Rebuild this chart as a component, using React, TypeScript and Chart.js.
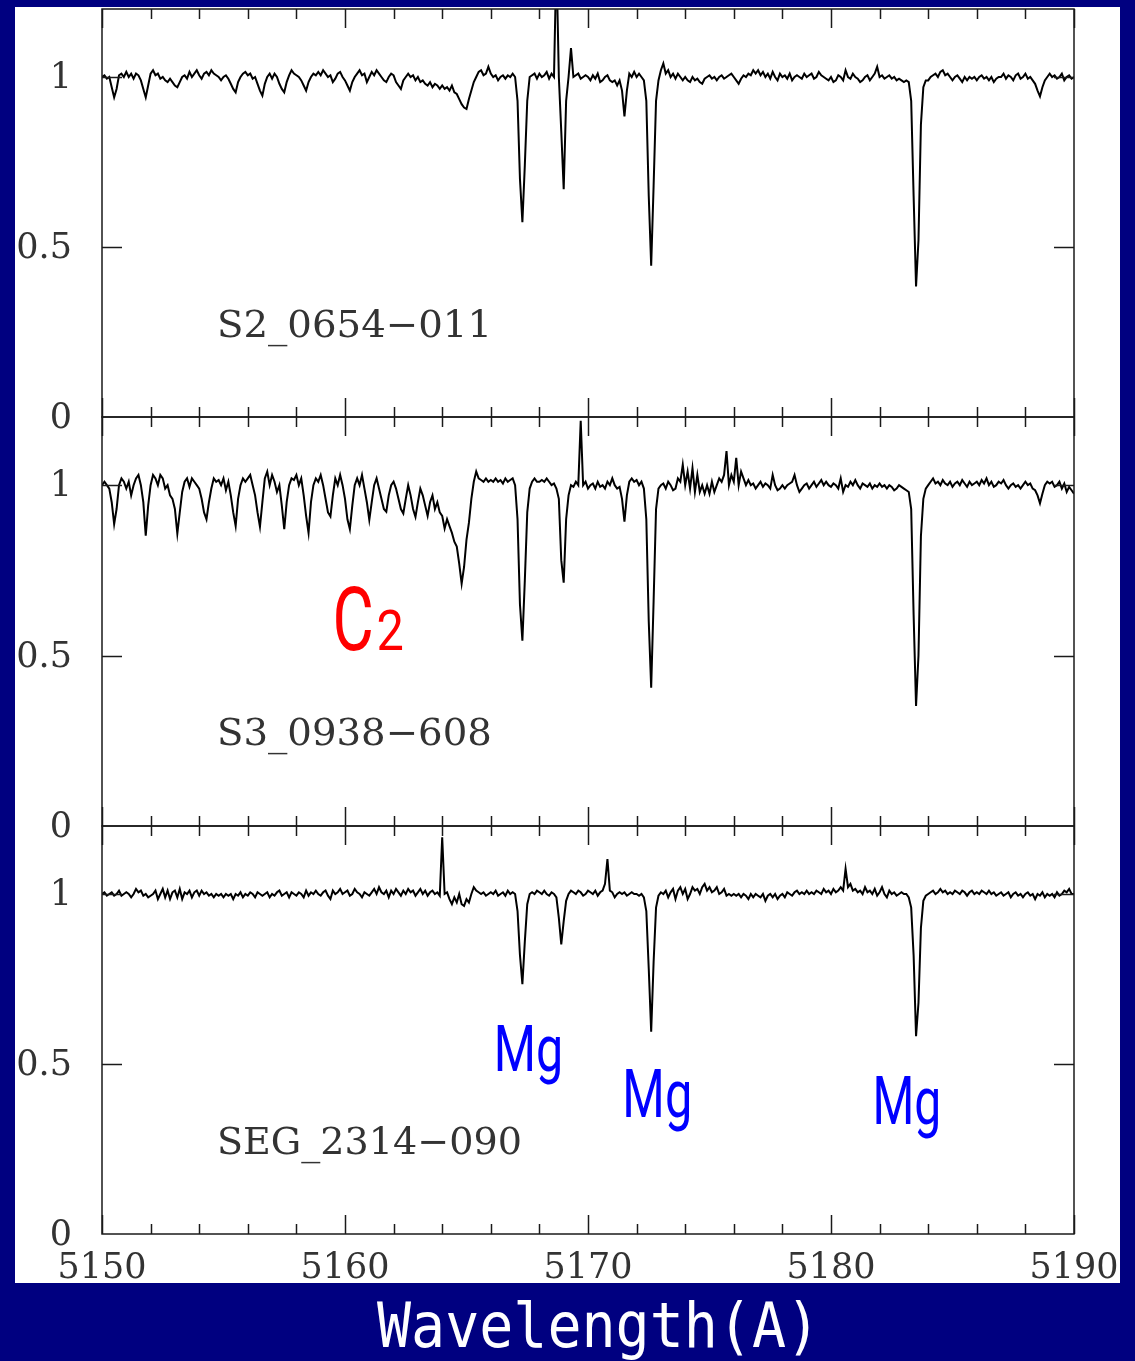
import React, { useEffect, useRef } from 'react';
import { Chart, registerables } from 'chart.js';

Chart.register(...registerables);

// ---------------- DATA ----------------
// wavelength grid (Angstrom)
const WAVELENGTHS = [
  5150, 5150.1, 5150.2, 5150.3, 5150.4, 5150.5, 5150.6, 5150.7, 5150.8, 5150.9,
  5151, 5151.1, 5151.2, 5151.3, 5151.4, 5151.5, 5151.6, 5151.7, 5151.8, 5151.9,
  5152, 5152.1, 5152.2, 5152.3, 5152.4, 5152.5, 5152.6, 5152.7, 5152.8, 5152.9,
  5153, 5153.1, 5153.2, 5153.3, 5153.4, 5153.5, 5153.6, 5153.7, 5153.8, 5153.9,
  5154, 5154.1, 5154.2, 5154.3, 5154.4, 5154.5, 5154.6, 5154.7, 5154.8, 5154.9,
  5155, 5155.1, 5155.2, 5155.3, 5155.4, 5155.5, 5155.6, 5155.7, 5155.8, 5155.9,
  5156, 5156.1, 5156.2, 5156.3, 5156.4, 5156.5, 5156.6, 5156.7, 5156.8, 5156.9,
  5157, 5157.1, 5157.2, 5157.3, 5157.4, 5157.5, 5157.6, 5157.7, 5157.8, 5157.9,
  5158, 5158.1, 5158.2, 5158.3, 5158.4, 5158.5, 5158.6, 5158.7, 5158.8, 5158.9,
  5159, 5159.1, 5159.2, 5159.3, 5159.4, 5159.5, 5159.6, 5159.7, 5159.8, 5159.9,
  5160, 5160.1, 5160.2, 5160.3, 5160.4, 5160.5, 5160.6, 5160.7, 5160.8, 5160.9,
  5161, 5161.1, 5161.2, 5161.3, 5161.4, 5161.5, 5161.6, 5161.7, 5161.8, 5161.9,
  5162, 5162.1, 5162.2, 5162.3, 5162.4, 5162.5, 5162.6, 5162.7, 5162.8, 5162.9,
  5163, 5163.1, 5163.2, 5163.3, 5163.4, 5163.5, 5163.6, 5163.7, 5163.8, 5163.9,
  5164, 5164.1, 5164.2, 5164.3, 5164.4, 5164.5, 5164.6, 5164.7, 5164.8, 5164.9,
  5165, 5165.1, 5165.2, 5165.3, 5165.4, 5165.5, 5165.6, 5165.7, 5165.8, 5165.9,
  5166, 5166.1, 5166.2, 5166.3, 5166.4, 5166.5, 5166.6, 5166.7, 5166.8, 5166.9,
  5167, 5167.1, 5167.2, 5167.3, 5167.4, 5167.5, 5167.6, 5167.7, 5167.8, 5167.9,
  5168, 5168.1, 5168.2, 5168.3, 5168.4, 5168.5, 5168.6, 5168.7, 5168.8, 5168.9,
  5169, 5169.1, 5169.2, 5169.3, 5169.4, 5169.5, 5169.6, 5169.7, 5169.8, 5169.9,
  5170, 5170.1, 5170.2, 5170.3, 5170.4, 5170.5, 5170.6, 5170.7, 5170.8, 5170.9,
  5171, 5171.1, 5171.2, 5171.3, 5171.4, 5171.5, 5171.6, 5171.7, 5171.8, 5171.9,
  5172, 5172.1, 5172.2, 5172.3, 5172.4, 5172.5, 5172.6, 5172.7, 5172.8, 5172.9,
  5173, 5173.1, 5173.2, 5173.3, 5173.4, 5173.5, 5173.6, 5173.7, 5173.8, 5173.9,
  5174, 5174.1, 5174.2, 5174.3, 5174.4, 5174.5, 5174.6, 5174.7, 5174.8, 5174.9,
  5175, 5175.1, 5175.2, 5175.3, 5175.4, 5175.5, 5175.6, 5175.7, 5175.8, 5175.9,
  5176, 5176.1, 5176.2, 5176.3, 5176.4, 5176.5, 5176.6, 5176.7, 5176.8, 5176.9,
  5177, 5177.1, 5177.2, 5177.3, 5177.4, 5177.5, 5177.6, 5177.7, 5177.8, 5177.9,
  5178, 5178.1, 5178.2, 5178.3, 5178.4, 5178.5, 5178.6, 5178.7, 5178.8, 5178.9,
  5179, 5179.1, 5179.2, 5179.3, 5179.4, 5179.5, 5179.6, 5179.7, 5179.8, 5179.9,
  5180, 5180.1, 5180.2, 5180.3, 5180.4, 5180.5, 5180.6, 5180.7, 5180.8, 5180.9,
  5181, 5181.1, 5181.2, 5181.3, 5181.4, 5181.5, 5181.6, 5181.7, 5181.8, 5181.9,
  5182, 5182.1, 5182.2, 5182.3, 5182.4, 5182.5, 5182.6, 5182.7, 5182.8, 5182.9,
  5183, 5183.1, 5183.2, 5183.3, 5183.4, 5183.5, 5183.6, 5183.7, 5183.8, 5183.9,
  5184, 5184.1, 5184.2, 5184.3, 5184.4, 5184.5, 5184.6, 5184.7, 5184.8, 5184.9,
  5185, 5185.1, 5185.2, 5185.3, 5185.4, 5185.5, 5185.6, 5185.7, 5185.8, 5185.9,
  5186, 5186.1, 5186.2, 5186.3, 5186.4, 5186.5, 5186.6, 5186.7, 5186.8, 5186.9,
  5187, 5187.1, 5187.2, 5187.3, 5187.4, 5187.5, 5187.6, 5187.7, 5187.8, 5187.9,
  5188, 5188.1, 5188.2, 5188.3, 5188.4, 5188.5, 5188.6, 5188.7, 5188.8, 5188.9,
  5189, 5189.1, 5189.2, 5189.3, 5189.4, 5189.5, 5189.6, 5189.7, 5189.8, 5189.9,
  5190,
];

// normalised flux, S2_0654-011
const FLUX_S2_0654_011 = [
  1.0, 1.005, 0.995, 1.0, 0.97, 0.94, 0.965, 1.005, 1.01, 1.0,
  1.015, 1.0, 1.01, 0.995, 1.01, 1.005, 0.99, 0.965, 0.94, 0.975,
  1.01, 1.02, 1.005, 1.01, 0.995, 1.0, 0.99, 0.985, 0.995, 0.985,
  0.975, 0.97, 0.985, 1.0, 1.005, 0.995, 1.015, 1.0, 1.01, 1.02,
  1.005, 0.995, 1.01, 1.015, 1.005, 1.02, 1.01, 1.005, 1.0, 0.99,
  1.0, 1.005, 0.995, 0.98, 0.965, 0.955, 0.985, 1.0, 1.01, 1.015,
  1.005, 1.01, 0.995, 1.0, 0.98, 0.96, 0.945, 0.98, 1.0, 1.01,
  0.995, 1.01, 1.0, 0.98, 0.965, 0.955, 0.985, 1.005, 1.02, 1.01,
  1.005, 1.0, 0.99, 0.975, 0.96, 0.985, 1.0, 1.01, 1.005, 1.015,
  1.005, 1.02, 1.01, 1.0, 1.005, 0.985, 0.995, 1.01, 1.015, 1.0,
  0.99, 0.975, 0.96, 0.985, 1.0, 1.01, 1.02, 1.005, 1.01, 0.985,
  1.0, 1.015, 1.005, 1.02, 1.01, 1.0, 0.99, 0.985, 1.0, 1.01,
  1.005, 0.985, 0.975, 0.965, 0.99, 1.0, 1.01, 1.0, 1.005, 0.99,
  1.0, 0.985, 0.99, 0.98, 0.975, 0.985, 0.97, 0.98, 0.975, 0.965,
  0.975, 0.965, 0.97, 0.96, 0.975, 0.955, 0.95, 0.935, 0.92, 0.91,
  0.906, 0.935, 0.96, 0.985, 1.0, 1.015, 1.02, 1.005, 1.01, 1.03,
  1.01, 1.0, 1.005, 0.99, 1.0, 1.005, 0.995, 1.005, 1.0, 1.01,
  1.0, 0.93, 0.7, 0.573, 0.74, 0.93, 1.0, 1.005, 1.01, 0.995,
  1.01, 1.0, 1.005, 1.015, 0.995, 1.01, 1.0, 1.35, 1.0, 0.84,
  0.67, 0.93, 1.0, 1.085, 1.0, 1.005, 1.01, 0.995, 1.0, 1.005,
  1.0, 0.99, 1.005, 0.995, 1.01, 0.985, 0.99, 1.0, 1.005, 0.99,
  0.985, 0.99, 0.975, 0.99, 0.96, 0.884, 0.96, 1.01, 1.0, 1.015,
  1.0, 1.01, 1.0, 0.99, 0.93, 0.65, 0.445, 0.68, 0.93, 0.99,
  1.02, 1.04, 1.01, 1.02, 1.0, 1.01, 0.995, 1.01, 1.0, 0.99,
  1.0, 0.99, 0.985, 1.0, 0.99, 0.995, 0.985, 0.98, 0.995, 1.0,
  1.005, 0.995, 1.0, 0.99, 1.0, 1.005, 0.995, 1.0, 1.005, 1.01,
  1.0, 0.99, 0.98, 0.995, 1.005, 1.0, 1.01, 1.005, 1.02, 1.01,
  1.02, 1.005, 1.015, 1.0, 1.01, 0.995, 1.015, 1.0, 0.99, 1.01,
  1.0, 1.005, 0.995, 1.01, 0.99, 1.0, 1.005, 1.0, 0.995, 1.01,
  1.0, 1.005, 1.01, 0.995, 1.0, 1.015, 1.005, 1.0, 0.995, 0.99,
  1.0, 0.985, 0.99, 1.005, 1.0, 0.99, 1.02, 1.0, 0.995, 1.01,
  1.0, 0.995, 0.985, 0.99, 1.0, 1.005, 0.99, 1.0, 1.01, 1.03,
  1.0, 1.005, 0.995, 1.0, 1.005, 0.995, 1.0, 0.99, 0.995, 0.99,
  0.985, 0.99, 0.985, 0.93, 0.65, 0.384, 0.52, 0.86, 0.97, 0.99,
  0.99, 1.0, 1.005, 1.01, 1.0, 1.015, 1.02, 1.005, 1.01, 1.0,
  0.99, 1.0, 1.005, 0.995, 0.985, 1.0, 0.99, 1.0, 0.995, 1.0,
  0.99, 1.0, 1.005, 0.995, 1.0, 0.99, 1.0, 0.985, 0.995, 1.0,
  1.0, 1.01, 0.995, 1.005, 1.0, 0.99, 1.005, 1.01, 0.995, 1.0,
  1.01, 0.995, 1.0, 0.99, 0.98, 0.96, 0.943, 0.97, 0.99, 1.0,
  1.01, 1.0, 1.005, 0.995, 1.0, 1.01, 0.99, 1.0, 1.005, 0.995,
  1.0,
];

// normalised flux, S3_0938-608 (C2 band)
const FLUX_S3_0938_608 = [
  1.0, 1.01, 1.0, 0.99, 0.95, 0.886, 0.93, 1.0, 1.02, 1.01,
  0.99, 1.01, 0.97, 1.0, 1.02, 1.03, 1.0, 0.95, 0.852, 0.94,
  1.0, 1.03, 1.02, 1.0, 1.03, 1.02, 0.99, 1.0, 0.97, 0.96,
  0.93, 0.858, 0.92, 0.98, 1.01, 1.02, 0.995, 1.02, 1.01, 1.0,
  0.99, 0.96, 0.92, 0.9, 0.95, 0.99, 1.02, 1.01, 1.015, 1.0,
  1.02, 0.985, 1.01, 0.97, 0.92, 0.88, 0.96, 1.0, 1.02, 1.01,
  1.02, 1.03, 1.0, 0.97, 0.92, 0.878, 0.95, 1.02, 1.04, 1.0,
  1.03, 1.01, 0.98, 1.0, 0.94, 0.871, 0.95, 1.0, 1.02, 1.015,
  1.03, 1.0, 1.02, 0.97, 0.91, 0.86, 0.95, 1.0, 1.02, 1.01,
  1.03, 1.0, 0.96, 0.92, 0.908, 0.97, 1.02, 1.0, 1.03, 1.0,
  0.96, 0.9, 0.871, 0.94, 1.0, 1.02, 1.0, 1.03, 0.99, 0.95,
  0.898, 0.95, 1.0, 1.02, 0.99, 0.96, 0.93, 0.922, 0.97, 1.0,
  1.01, 0.99, 0.96, 0.93, 0.917, 0.96, 1.0, 0.97, 0.93, 0.907,
  0.95, 0.99, 0.97, 0.94, 0.91, 0.95, 0.97, 0.93, 0.95, 0.92,
  0.91, 0.873, 0.9, 0.88, 0.86, 0.834, 0.82, 0.77, 0.711, 0.76,
  0.84, 0.89, 0.96, 1.01, 1.04, 1.02, 1.015, 1.01, 1.02, 1.01,
  1.015, 1.01, 1.02, 1.01, 1.015, 1.005, 1.02, 1.01, 1.015, 1.02,
  1.0, 0.9, 0.65, 0.544, 0.72, 0.92, 0.99, 1.01, 1.02, 1.01,
  1.01, 1.015, 1.01, 1.02, 1.01, 1.0, 1.005, 0.99, 0.96, 0.78,
  0.714, 0.9, 0.97, 1.0, 0.995, 1.01, 1.0, 1.189, 1.0, 1.01,
  0.99, 1.0, 1.005, 0.99, 1.01, 0.995, 1.0, 0.99, 1.01, 1.0,
  1.02, 1.0, 0.99, 0.995, 0.96, 0.893, 0.97, 1.01, 1.02, 1.01,
  1.015, 1.0, 1.01, 0.99, 0.9, 0.6, 0.406, 0.66, 0.93, 0.99,
  1.0, 1.005, 0.99, 1.01, 1.0, 0.985, 0.99, 1.02, 1.01, 1.06,
  1.0, 1.04, 0.99, 1.05, 0.98, 1.03, 0.98, 1.0, 0.975, 1.0,
  0.975, 1.01, 0.98, 1.0, 1.02, 1.01, 1.03, 1.1, 1.0, 1.03,
  1.01, 1.08, 1.0, 1.04, 1.02, 1.0, 1.015, 1.0, 1.005, 0.99,
  1.0, 1.01, 0.995, 1.005, 1.0, 0.99, 1.03, 1.0, 0.985, 0.99,
  1.0, 0.99, 1.0, 1.005, 1.01, 1.03, 1.0, 0.98, 0.99, 1.0,
  1.005, 0.99, 1.0, 1.01, 0.995, 1.005, 1.015, 1.0, 1.01, 1.0,
  0.995, 1.005, 1.0, 0.99, 1.02, 0.98, 1.0, 0.995, 1.01, 1.0,
  1.015, 1.0, 0.99, 1.005, 1.0, 0.995, 1.005, 0.99, 1.0, 0.995,
  1.005, 0.995, 1.0, 0.99, 1.0, 0.995, 0.985, 0.99, 1.0, 0.995,
  0.99, 0.985, 0.98, 0.93, 0.62, 0.352, 0.5, 0.85, 0.96, 0.99,
  1.0, 1.01, 1.02, 1.005, 1.01, 1.0, 1.015, 1.005, 1.0, 1.01,
  0.995, 1.005, 1.01, 1.0, 1.015, 1.005, 0.995, 1.01, 1.0, 1.005,
  1.01, 1.0, 1.015, 1.005, 1.02, 1.0, 1.01, 0.995, 1.0, 1.01,
  1.005, 1.015, 1.0, 0.99, 1.0, 1.005, 0.995, 1.0, 0.99, 1.0,
  1.01, 1.0, 1.005, 0.99, 0.985, 0.97, 0.947, 0.975, 1.0, 1.01,
  1.005, 1.01, 0.995, 1.0, 1.01, 0.99, 1.005, 0.98, 0.995, 0.985,
  0.975,
];

// normalised flux, SEG_2314-090
const FLUX_SEG_2314_090 = [
  1.0, 1.005, 0.995, 1.0, 1.005, 0.995, 1.0, 1.01, 0.995, 1.0,
  1.005, 1.0, 0.99, 1.0, 1.015, 1.005, 1.01, 0.995, 1.0, 0.99,
  0.995, 1.0, 1.01, 0.985, 1.0, 1.015, 0.99, 1.01, 0.985, 1.005,
  1.01, 0.99, 1.015, 0.985, 1.005, 1.0, 1.01, 0.99, 1.005, 1.01,
  0.995, 1.01, 1.0, 1.005, 0.995, 1.0, 0.99, 1.0, 0.995, 1.0,
  0.99, 1.0, 0.995, 1.0, 0.985, 1.0, 0.995, 1.005, 0.99, 1.0,
  0.995, 1.005, 1.0, 0.99, 1.005, 1.0, 0.995, 1.0, 1.005, 0.99,
  1.0, 0.995, 1.005, 1.01, 0.995, 1.0, 1.005, 0.99, 1.005, 1.0,
  0.995, 1.005, 1.0, 0.99, 1.01, 0.995, 1.005, 1.0, 1.01, 1.0,
  0.995, 1.005, 1.01, 0.995, 0.985, 1.01, 1.0, 1.005, 1.015, 1.0,
  1.005, 1.01, 0.995, 1.0, 1.015, 1.005, 1.0, 0.99, 1.005, 1.0,
  0.995, 1.005, 1.015, 1.0, 1.02, 1.005, 1.0, 1.01, 0.99, 1.01,
  1.0, 1.015, 1.005, 0.995, 1.01, 1.0, 1.015, 1.005, 1.01, 0.995,
  1.005, 1.015, 1.0, 1.01, 0.995, 1.005, 1.01, 1.0, 1.005, 0.995,
  1.167, 1.0, 1.005, 0.985, 0.97, 0.99, 0.975, 1.0, 0.97, 0.965,
  0.985, 0.975, 1.0, 1.02, 1.01, 1.005, 1.0, 1.005, 0.995, 1.0,
  1.005, 1.0, 1.01, 0.995, 1.0, 1.005, 0.995, 1.01, 1.0, 1.005,
  1.0, 0.95, 0.82, 0.735, 0.86, 0.97, 1.0, 1.005, 1.0, 1.01,
  1.005, 1.0, 1.01, 1.0, 0.995, 1.005, 1.0, 0.99, 0.93, 0.852,
  0.92, 0.98, 1.0, 1.01, 1.005, 1.0, 1.01, 1.005, 0.995, 1.0,
  1.01, 1.005, 1.0, 1.01, 0.995, 1.005, 1.01, 1.03, 1.103, 1.01,
  1.005, 0.99, 1.0, 1.005, 1.0, 1.005, 0.995, 1.0, 1.005, 1.0,
  1.0, 0.995, 1.0, 0.99, 0.95, 0.78, 0.595, 0.8, 0.96, 0.995,
  1.005, 1.0, 1.01, 0.99, 1.005, 1.015, 0.985, 1.01, 1.02, 1.0,
  1.015, 0.985, 1.0, 1.02, 1.01, 1.015, 1.0, 1.02, 1.03, 1.01,
  1.02, 1.005, 1.01, 1.02, 1.0, 1.005, 1.015, 0.995, 1.0, 0.995,
  1.0, 0.995, 1.0, 0.99, 1.0, 0.995, 0.985, 1.0, 0.99, 1.0,
  0.995, 0.99, 1.0, 0.98, 0.995, 1.0, 0.99, 1.0, 0.985, 0.995,
  1.0, 0.99, 1.005, 1.0, 0.995, 1.005, 1.01, 1.0, 1.005, 1.0,
  1.01, 1.0, 1.005, 1.0, 1.01, 1.005, 1.0, 1.015, 1.005, 1.01,
  1.0, 1.015, 1.005, 1.01, 1.02, 1.01, 1.074, 1.02, 1.03, 1.01,
  1.015, 1.005, 1.01, 1.0, 1.02, 1.005, 1.01, 1.0, 1.015, 0.995,
  1.005, 1.02, 1.0, 0.99, 1.01, 1.0, 1.005, 0.995, 1.0, 1.005,
  1.0, 1.0, 0.99, 0.96, 0.82, 0.582, 0.68, 0.9, 0.98, 0.995,
  1.0, 1.005, 1.01, 1.0, 1.005, 1.015, 1.005, 1.01, 1.0, 1.005,
  1.0, 1.01, 1.005, 1.0, 1.01, 1.005, 0.995, 1.005, 1.01, 1.0,
  1.005, 1.0, 1.01, 1.005, 1.0, 1.01, 1.0, 1.005, 0.995, 1.0,
  1.005, 0.995, 1.0, 1.005, 0.99, 1.0, 1.005, 0.995, 1.0, 0.99,
  1.0, 1.005, 0.995, 1.0, 0.985, 1.0, 0.995, 1.005, 0.99, 1.0,
  0.995, 1.0, 0.99, 1.005, 0.995, 1.0, 1.01, 1.005, 1.015, 1.0,
  1.0,
];

const STAR_NAMES = ['S2_0654\u2212011', 'S3_0938\u2212608', 'SEG_2314\u2212090'];
const X_LABEL_TICKS = [5150, 5160, 5170, 5180, 5190];
const X_MINOR_TICKS = [
  5152, 5154, 5156, 5158, 5162, 5164, 5166, 5168,
  5172, 5174, 5176, 5178, 5182, 5184, 5186, 5188,
];
const Y_TICKS = [0, 0.5, 1];
const X_TITLE = 'Wavelength(A)';
const MOLECULE_LABEL = 'C';
const MOLECULE_SUB = '2';
const LINE_LABEL = 'Mg';

// ---------------- LAYOUT / STYLE ----------------
const W = 1135;
const H = 1361;
const PLOT_LEFT = 102;
const PLOT_RIGHT = 1074;
const XAXIS_H = 50;
const NAVY = '#000080';
const INK = '#1a1a1a';
const TICK_FONT = "'DejaVu Serif', serif";
const NOTE_FONT = "Roboto, 'Liberation Sans', sans-serif";
const NOTE_WEIGHT = 'normal';

type Note = {
  text: string; x: number; y: number; cap: number; width: number;
  color: string; family: string; weight: string; ref: string;
};

type Panel = {
  flux: number[]; top: number; bottom: number; showX: boolean; notes: Note[]; title: boolean;
};

const nameNote = (text: string, y: number, width: number): Note => ({
  text, x: 5154.856, y, cap: 27, width, color: '#333', family: TICK_FONT, weight: 'normal', ref: 'E',
});

const PANELS: Panel[] = [
  {
    flux: FLUX_S2_0654_011, top: 9, bottom: 417, showX: false, title: false,
    notes: [nameNote(STAR_NAMES[0], 0.236, 267)],
  },
  {
    flux: FLUX_S3_0938_608, top: 417, bottom: 826, showX: false, title: false,
    notes: [
      nameNote(STAR_NAMES[1], 0.238, 270),
      { text: MOLECULE_LABEL, x: 5159.63, y: 0.516, cap: 64, width: 35, color: '#ff0000', family: NOTE_FONT, weight: NOTE_WEIGHT, ref: 'C' },
      { text: MOLECULE_SUB, x: 5161.37, y: 0.516, cap: 40, width: 24, color: '#ff0000', family: NOTE_FONT, weight: NOTE_WEIGHT, ref: '2' },
    ],
  },
  {
    flux: FLUX_SEG_2314_090, top: 826, bottom: 1234, showX: true, title: true,
    notes: [
      nameNote(STAR_NAMES[2], 0.235, 300),
      { text: LINE_LABEL, x: 5166.276, y: 0.48, cap: 47, width: 63, color: '#0000ff', family: NOTE_FONT, weight: NOTE_WEIGHT, ref: 'M' },
      { text: LINE_LABEL, x: 5171.564, y: 0.345, cap: 48, width: 63, color: '#0000ff', family: NOTE_FONT, weight: NOTE_WEIGHT, ref: 'M' },
      { text: LINE_LABEL, x: 5181.852, y: 0.324, cap: 48, width: 62, color: '#0000ff', family: NOTE_FONT, weight: NOTE_WEIGHT, ref: 'M' },
    ],
  },
];

function fittedText(
  ctx: CanvasRenderingContext2D, text: string, left: number, baseline: number,
  family: string, weight: string, cap: number, width: number, color: string, ref: string,
) {
  ctx.save();
  ctx.font = `${weight} 100px ${family}`;
  const capH = ctx.measureText(ref).actualBoundingBoxAscent || 72;
  const size = (100 * cap) / capH;
  ctx.font = `${weight} ${size}px ${family}`;
  ctx.textAlign = 'left';
  ctx.textBaseline = 'alphabetic';
  const m = ctx.measureText(text);
  const ink = m.actualBoundingBoxLeft + m.actualBoundingBoxRight;
  const sx = ink > 0 ? width / ink : 1;
  ctx.translate(left, baseline);
  ctx.scale(sx, 1);
  ctx.fillStyle = color;
  ctx.fillText(text, m.actualBoundingBoxLeft, 0);
  ctx.restore();
}

function makeDecor(panel: Panel) {
  return {
    id: 'spectrumDecor',
    afterDatasetsDraw(chart: any) {
      const { ctx, chartArea: a, scales } = chart;
      const xs = scales.x;
      const ys = scales.y;
      ctx.save();
      ctx.strokeStyle = INK;
      ctx.lineWidth = 1.5;
      ctx.strokeRect(a.left, a.top, a.right - a.left, a.bottom - a.top);
      const seg = (x1: number, y1: number, x2: number, y2: number) => {
        ctx.beginPath();
        ctx.moveTo(x1, y1);
        ctx.lineTo(x2, y2);
        ctx.stroke();
      };
      const allX = [...X_LABEL_TICKS, ...X_MINOR_TICKS];
      for (const v of allX) {
        const px = Math.round(xs.getPixelForValue(v)) + 0.5;
        const len = X_LABEL_TICKS.includes(v) ? 19 : 10;
        seg(px, a.top, px, a.top + len);
        seg(px, a.bottom, px, a.bottom - len);
      }
      for (const v of Y_TICKS) {
        if (v === 0) continue;
        const py = Math.round(ys.getPixelForValue(v)) + 0.5;
        seg(a.left, py, a.left + 20, py);
        seg(a.right, py, a.right - 20, py);
      }
      ctx.restore();
    },
    afterDraw(chart: any) {
      const { ctx, scales } = chart;
      for (const n of panel.notes) {
        const left = scales.x.getPixelForValue(n.x);
        const base = scales.y.getPixelForValue(n.y);
        fittedText(ctx, n.text, left, base, n.family, n.weight, n.cap, n.width, n.color, n.ref);
      }
      if (panel.title) {
        fittedText(ctx, X_TITLE, 377, 1347, "'DejaVu Sans Mono', monospace", 'normal', 45, 432, '#ffffff', 'W');
      }
    },
  };
}

function buildConfig(panel: Panel): any {
  return {
    type: 'line',
    data: {
      datasets: [
        {
          data: WAVELENGTHS.map((w, i) => ({ x: w, y: panel.flux[i] })),
          borderColor: '#000000',
          borderWidth: 2,
          pointRadius: 0,
          tension: 0,
          fill: false,
        },
      ],
    },
    options: {
      responsive: false,
      animation: false,
      events: [],
      layout: {
        padding: {
          left: 0,
          right: W - PLOT_RIGHT,
          top: panel.top,
          bottom: panel.showX ? H - panel.bottom - XAXIS_H : H - panel.bottom,
        },
      },
      plugins: { legend: { display: false }, tooltip: { enabled: false }, title: { display: false } },
      scales: {
        x: {
          type: 'linear',
          min: 5150,
          max: 5190,
          display: panel.showX,
          grid: { display: false, drawTicks: false },
          border: { display: false },
          afterBuildTicks: (s: any) => { s.ticks = X_LABEL_TICKS.map((v) => ({ value: v })); },
          afterFit: (s: any) => {
            s.height = panel.showX ? XAXIS_H : 0;
            s.paddingLeft = 0;
            s.paddingRight = 0;
          },
          ticks: {
            color: '#333',
            font: { family: TICK_FONT, size: 35 },
            padding: 14,
            maxRotation: 0,
            autoSkip: false,
            callback: (v: any) => String(v),
          },
        },
        y: {
          type: 'linear',
          min: 0,
          max: 1.2,
          grid: { display: false, drawTicks: false },
          border: { display: false },
          afterBuildTicks: (s: any) => { s.ticks = Y_TICKS.map((v) => ({ value: v })); },
          afterFit: (s: any) => { s.width = PLOT_LEFT; s.paddingTop = 0; s.paddingBottom = 0; },
          ticks: {
            color: '#333',
            font: { family: TICK_FONT, size: 35 },
            padding: 30,
            labelOffset: 2,
            callback: (v: any) => String(v),
          },
        },
      },
    },
    plugins: [makeDecor(panel)],
  };
}

export default function App() {
  const r0 = useRef<HTMLCanvasElement>(null);
  const r1 = useRef<HTMLCanvasElement>(null);
  const r2 = useRef<HTMLCanvasElement>(null);
  const refs = [r0, r1, r2];

  useEffect(() => {
    const charts = PANELS.map((p, i) => new Chart(refs[i].current as HTMLCanvasElement, buildConfig(p)));
    return () => charts.forEach((c) => c.destroy());
  }, []);

  return (
    <div style={{ position: 'fixed', left: 0, top: 0, width: W, height: H, background: NAVY, overflow: 'hidden' }}>
      <div style={{ position: 'absolute', left: 15, top: 7, width: 1105, height: 1276, background: '#ffffff' }} />
      {refs.map((r, i) => (
        <canvas
          key={i}
          ref={r}
          width={W}
          height={H}
          style={{ position: 'absolute', left: 0, top: 0, width: W, height: H }}
        />
      ))}
    </div>
  );
}
